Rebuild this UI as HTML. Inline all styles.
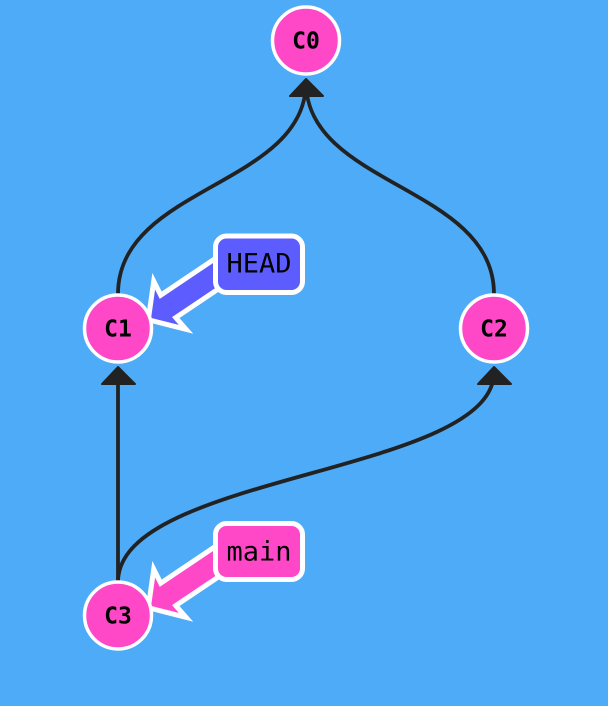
<!DOCTYPE html>
<html>
<head>
<meta charset="utf-8">
<style>
  html, body { margin: 0; padding: 0; background: #4dabf7; }
  svg { display: block; }
  .node { fill: #ff48c8; stroke: #ffffff; stroke-width: 3.5; }
  .nt { font-family: "DejaVu Sans Mono", "Liberation Mono", monospace; font-weight: bold; font-size: 23px; fill: #000; text-anchor: middle; }
  .lt { font-family: "DejaVu Sans Mono", "Liberation Mono", monospace; font-size: 27px; fill: #000; text-anchor: middle; }
  .edge { fill: none; stroke: #222222; stroke-width: 3.8; }
  .ah { fill: #222222; stroke: #222222; stroke-width: 2; stroke-linejoin: round; }
</style>
</head>
<body>
<svg width="608" height="706" viewBox="0 0 608 706" xmlns="http://www.w3.org/2000/svg">
  <rect x="0" y="0" width="608" height="706" fill="#4dabf7"/>

  <!-- edges -->
  <path class="edge" d="M118,294 C118,186 306,186 306,82"/>
  <path class="edge" d="M494,294 C494,186 306,186 306,82"/>
  <path class="edge" d="M118,582 L118,372"/>
  <path class="edge" d="M118,582 C118,474 494,474 494,372"/>

  <!-- arrowheads -->
  <polygon class="ah" points="306,79 290,96 323,96"/>
  <polygon class="ah" points="118,367 102,384 135,384"/>
  <polygon class="ah" points="494,367 478,384 511,384"/>

  <!-- branch arrows -->
  <g transform="translate(145,322) rotate(-33.9)">
    <polygon points="4,0 30,-29 28,-13.5 100,-13.5 100,13.5 28,13.5 30,29" fill="#5d5dff" stroke="#ffffff" stroke-width="5" stroke-linejoin="miter"/>
  </g>
  <g transform="translate(145,610) rotate(-33.9)">
    <polygon points="4,0 30,-29 28,-13.5 100,-13.5 100,13.5 28,13.5 30,29" fill="#ff48c8" stroke="#ffffff" stroke-width="5" stroke-linejoin="miter"/>
  </g>

  <!-- labels -->
  <rect x="215.5" y="236" width="87" height="56.5" rx="11" ry="11" fill="#5d5dff" stroke="#ffffff" stroke-width="5"/>
  <text class="lt" x="259" y="272.5">HEAD</text>
  <rect x="215.5" y="523.5" width="87" height="56" rx="11" ry="11" fill="#ff48c8" stroke="#ffffff" stroke-width="5"/>
  <text class="lt" x="259" y="560.5">main</text>

  <!-- nodes -->
  <circle class="node" cx="306" cy="40.5" r="33.5"/>
  <text class="nt" x="306" y="48.5">C0</text>
  <circle class="node" cx="118" cy="328.5" r="33.5"/>
  <text class="nt" x="118" y="336.5">C1</text>
  <circle class="node" cx="494" cy="328.5" r="33.5"/>
  <text class="nt" x="494" y="336.5">C2</text>
  <circle class="node" cx="118" cy="615.5" r="33.5"/>
  <text class="nt" x="118" y="623.5">C3</text>
</svg>
</body>
</html>
